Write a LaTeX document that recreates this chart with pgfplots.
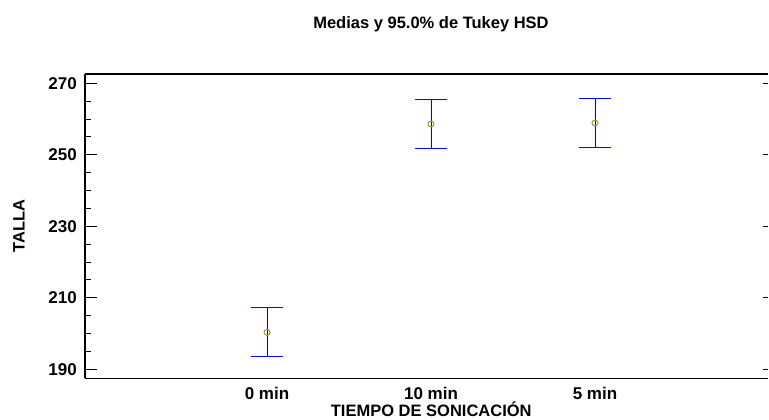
\documentclass[border=0pt]{standalone}
\usepackage{pgfplots}
\pgfplotsset{compat=1.18}
\usepackage{fontspec}
\setmainfont{Liberation Sans}
\definecolor{meanmk}{RGB}{165,155,20}
\definecolor{barblue}{RGB}{0,0,255}
\begin{document}
\begin{tikzpicture}
\useasboundingbox (0,0) rectangle (769bp,420bp);
\begin{axis}[
  at={(85bp,41.7bp)}, anchor=south west,
  scale only axis, width=683bp, height=304.3bp,
  xmin=-1.11, xmax=3.055, ymin=187.5, ymax=272.6,
  axis x line*=box, axis y line*=left,
  axis line style={line width=1.2bp, black},
  xtick={0,1,2}, xticklabels={0 min,10 min,5 min},
  x tick style={draw=none},
  ytick={190,210,230,250,270},
  minor y tick num=3,
  y tick style={line width=1bp, black},
  tick align=inside,
  major tick length=12bp, minor tick length=6bp,
  /pgf/number format/assume math mode=true,
  tick label style={font=\fontsize{17bp}{20bp}\selectfont\bfseries},
  xticklabel style={anchor=base, yshift=-21bp},
  yticklabel style={anchor=east, inner sep=0pt, xshift=-8bp},
  xlabel={TIEMPO DE SONICACIÓN},
  xlabel style={at={(axis description cs:0.507,0)}, anchor=base, yshift=-38bp,
    font=\fontsize{16.5bp}{20bp}\selectfont\bfseries},
  ylabel={TALLA},
  ylabel style={at={(axis description cs:-0.0966,0.5)}, anchor=center,
    font=\fontsize{16.5bp}{20bp}\selectfont\bfseries},
  clip=false,
]
% intervals (lower, upper) with caps
\addplot[barblue, line width=1bp, mark=-, mark size=16bp, mark options={solid, line width=1.2bp, draw=barblue}]
  coordinates {(0,193.5) (0,207.2)};
\addplot[barblue, line width=1bp, mark=-, mark size=16bp, mark options={solid, line width=1.2bp, draw=barblue}]
  coordinates {(1,251.7) (1,265.5)};
\addplot[barblue, line width=1bp, mark=-, mark size=16bp, mark options={solid, line width=1.2bp, draw=barblue}]
  coordinates {(2,252.0) (2,265.8)};
% means
\addplot[only marks, mark=o, mark size=3bp,
  mark options={draw=meanmk, fill=none, line width=1bp}]
  table[x=x, y=y] {
x y
0 200.35
1 258.6
2 258.9
};
\end{axis}
\begin{axis}[
  at={(85bp,41.7bp)}, anchor=south west,
  scale only axis, width=683bp, height=304.3bp,
  xmin=-1.11, xmax=3.055, ymin=187.5, ymax=272.6,
  axis x line=none, axis y line*=right,
  y axis line style={draw=none},
  ytick={190,210,230,250,270}, yticklabels={},
  y tick style={line width=1bp, black},
  tick align=inside, major tick length=5bp,
]
\addplot[draw=none] coordinates {(0,230)};
\end{axis}
\node[anchor=base, font=\fontsize{16.5bp}{20bp}\selectfont\bfseries] at (431bp,391bp) {Medias y 95.0\% de Tukey HSD};
\end{tikzpicture}
\end{document}
